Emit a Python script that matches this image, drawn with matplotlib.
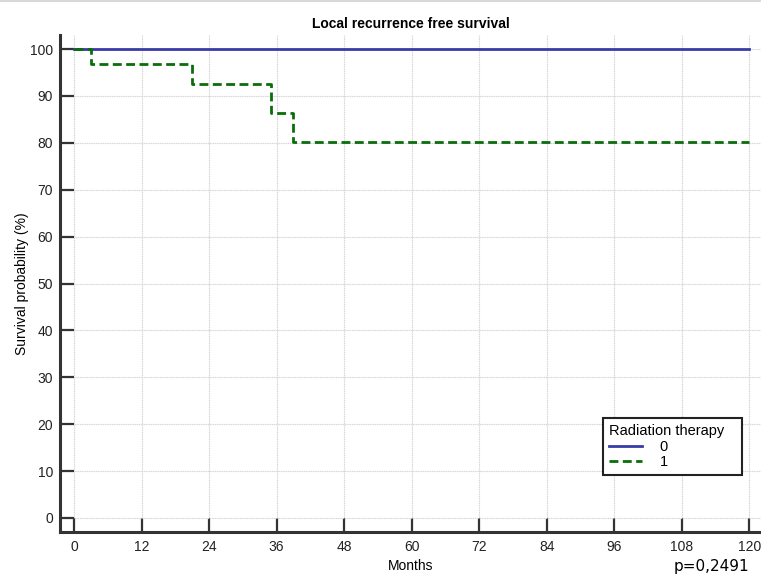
import matplotlib
matplotlib.use("Agg")
import matplotlib.pyplot as plt
from matplotlib.lines import Line2D

plt.rcParams['font.family'] = ['Liberation Sans', 'DejaVu Sans']

# Data
group0_t = [0, 120]
group0_s = [100, 100]
group1_t = [0, 3.1, 21.0, 35.1, 39.0, 120]
group1_s = [100, 96.8, 92.6, 86.4, 80.2, 80.2]
xticks = [0, 12, 24, 36, 48, 60, 72, 84, 96, 108, 120]
yticks = [0, 10, 20, 30, 40, 50, 60, 70, 80, 90, 100]
legend_labels = ['0', '1']
legend_title = 'Radiation therapy'

fig = plt.figure(figsize=(7.61, 5.76), dpi=100)
ax = fig.add_axes([60/761, 44/576, 1 - 60/761, (532-35)/576])

ax.step(group0_t, group0_s, where='post', color='#3a3aa8', lw=2.0, label=legend_labels[0], zorder=3)
ax.step(group1_t, group1_s, where='post', color='#0a6e0a', lw=2.0, ls=(0, (3.2, 1.6)), label=legend_labels[1], zorder=3)

ax.set_xlim(-2.49, 122.1)
ax.set_ylim(-3.0, 103.0)
ax.set_xticks(xticks)
ax.set_yticks(yticks)
ax.grid(True, color='#d4d4d4', lw=0.8, ls=(0, (1, 0.6)))
ax.set_axisbelow(True)

for s in ['top', 'right']:
    ax.spines[s].set_visible(False)
for s in ['left', 'bottom']:
    ax.spines[s].set_linewidth(2.2)
    ax.spines[s].set_color('#333333')

ax.tick_params(direction='in', length=10, width=1.6, color='#333333', labelsize=10, labelcolor='#222222')
ax.tick_params(axis='x', pad=6)
ax.tick_params(axis='y', pad=5)

ax.set_title('Local recurrence free survival', fontsize=10, fontweight='bold', pad=5)
ax.set_xlabel('Months', fontsize=10, labelpad=3)
ax.set_ylabel('Survival probability (%)', fontsize=10, labelpad=1)

leg = ax.legend(title=legend_title + '   ', loc='lower right', bbox_to_anchor=((742-60)/701, (576-475-44)/497),
                borderaxespad=0,
                fontsize=10.5, title_fontsize=10.5, frameon=True, fancybox=False, framealpha=1,
                edgecolor='#222222', handlelength=2.3, borderpad=0.4, labelspacing=0.1,
                handletextpad=1.2, alignment='left')
leg.get_frame().set_linewidth(1.5)

fig.text(749/761, 1 - 566/576, 'p=0,2491', ha='right', va='center', fontsize=11, family='DejaVu Sans')
fig.add_artist(Line2D([0, 1], [0.998, 0.998], color='#d8d8d8', lw=1.5, transform=fig.transFigure))

fig.savefig('out.png', dpi=100)
